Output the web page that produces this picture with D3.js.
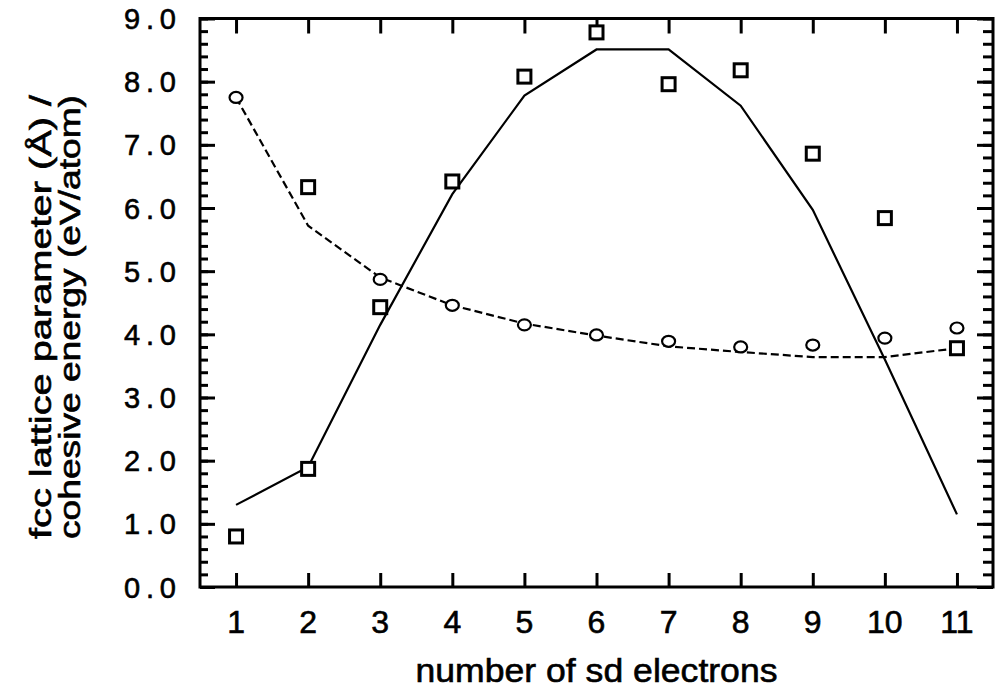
<!DOCTYPE html>
<html>
<head>
<meta charset="utf-8">
<script src="https://cdn.jsdelivr.net/npm/d3@7"></script>
<style>
  html, body { margin: 0; padding: 0; background: #fff; }
  svg { display: block; }
  text { font-family: "Liberation Sans", Arial, sans-serif; fill: #000; stroke: #000; stroke-width: 0.6; }
</style>
</head>
<body>
<svg id="chart" width="999" height="689"></svg>
<script>
// ---- data ----
const electrons = [1, 2, 3, 4, 5, 6, 7, 8, 9, 10, 11];
// squares: measured cohesive energy (eV/atom)
const cohesiveMeasured = [0.80, 1.87, 4.43, 6.42, 8.08, 8.78, 7.96, 8.18, 6.86, 5.84, 3.78];
// solid curve: model cohesive energy
const cohesiveModel = [1.30, 1.90, 4.15, 6.22, 7.78, 8.51, 8.51, 7.62, 5.97, 3.60, 1.15];
// small round markers: fcc lattice parameter (Å)
const latticeMeasured = [7.75, 6.33, 4.87, 4.46, 4.15, 3.99, 3.89, 3.80, 3.83, 3.94, 4.10];
// dashed curve: model lattice parameter
const latticeModel = [7.75, 5.72, 4.90, 4.46, 4.17, 3.98, 3.81, 3.72, 3.64, 3.64, 3.78];
const yTicks = [0, 1, 2, 3, 4, 5, 6, 7, 8, 9];
const xTicks = [1, 2, 3, 4, 5, 6, 7, 8, 9, 10, 11];
const xTitle = "number of sd electrons";
const yTitle = ["fcc lattice parameter (Å) /", "cohesive energy (eV/atom)"];

// marker style per lattice point (the second one is drawn as a square in the original)
const latticeMarkerShape = ["circle", "square", "circle", "circle", "circle", "circle", "circle", "circle", "circle", "circle", "circle"];

// ---- layout ----
const svg = d3.select("#chart");
const L = 200, R = 993, T = 18.5, B = 587;
const x = d3.scaleLinear().domain([0.5, 11.5]).range([L, R]);
const y = d3.scaleLinear().domain([0, 9]).range([B, T]);

const minorTicks = d3.range(0, 9.0001, 0.2).map(v => +v.toFixed(1));

// frame
svg.append("rect")
  .attr("x", L).attr("y", T).attr("width", R - L).attr("height", B - T)
  .attr("fill", "none").attr("stroke", "#000").attr("stroke-width", 3);

// axes via d3 axis generators (ticks pointing inward)
const tickStyle = g => { g.select(".domain").remove(); g.selectAll("line").attr("stroke", "#000").attr("stroke-width", 3); g.selectAll("text").remove(); };

svg.append("g").attr("transform", `translate(0,${B})`)
  .call(d3.axisTop(x).tickValues(xTicks).tickSize(14)).call(tickStyle);
svg.append("g").attr("transform", `translate(0,${T})`)
  .call(d3.axisBottom(x).tickValues(xTicks).tickSize(15)).call(tickStyle);

svg.append("g").attr("transform", `translate(${L},0)`)
  .call(d3.axisRight(y).tickValues(minorTicks).tickSize(8)).call(tickStyle);
svg.append("g").attr("transform", `translate(${L},0)`)
  .call(d3.axisRight(y).tickValues(yTicks).tickSize(15)).call(tickStyle);
svg.append("g").attr("transform", `translate(${R},0)`)
  .call(d3.axisLeft(y).tickValues(minorTicks).tickSize(10)).call(tickStyle);
svg.append("g").attr("transform", `translate(${R},0)`)
  .call(d3.axisLeft(y).tickValues(yTicks).tickSize(16)).call(tickStyle);

// tick labels
svg.append("g").selectAll("text").data(yTicks).join("text")
  .attr("x", 176).attr("y", d => y(d) + 10.5)
  .attr("text-anchor", "end")
  .attr("font-size", 29)
  .attr("textLength", 52).attr("lengthAdjust", "spacing")
  .text(d => d.toFixed(1));

svg.append("g").selectAll("text").data(xTicks).join("text")
  .attr("x", d => x(d)).attr("y", 633)
  .attr("text-anchor", "middle")
  .attr("font-size", 32)
  .text(d => d);

// axis titles
svg.append("text")
  .attr("x", (L + R) / 2).attr("y", 682)
  .attr("text-anchor", "middle")
  .attr("font-size", 33)
  .attr("textLength", 362).attr("lengthAdjust", "spacingAndGlyphs")
  .text(xTitle);

const yt = svg.append("g").attr("transform", "translate(0,317) rotate(-90)");
yt.selectAll("text").data(yTitle).join("text")
  .attr("x", 0).attr("y", (d, i) => i === 0 ? 51 : 80)
  .attr("text-anchor", "middle")
  .attr("font-size", 29)
  .attr("textLength", 444).attr("lengthAdjust", "spacingAndGlyphs")
  .text(d => d);

// lines
const line = d3.line().x((d, i) => x(electrons[i])).y(d => y(d));

svg.append("path").datum(cohesiveModel)
  .attr("d", line).attr("fill", "none")
  .attr("stroke", "#000").attr("stroke-width", 2.2);

svg.append("path").datum(latticeModel)
  .attr("d", line).attr("fill", "none")
  .attr("stroke", "#000").attr("stroke-width", 2.2)
  .attr("stroke-dasharray", "8,4");

// markers
svg.append("g").selectAll("rect").data(cohesiveMeasured).join("rect")
  .attr("x", (d, i) => x(electrons[i]) - 6.5)
  .attr("y", d => y(d) - 6.5)
  .attr("width", 13).attr("height", 13)
  .attr("fill", "#fff").attr("stroke", "#000").attr("stroke-width", 3);

const lm = svg.append("g").selectAll("g").data(latticeMeasured).join("g");
lm.each(function (d, i) {
  const g = d3.select(this);
  const cx = x(electrons[i]), cy = y(d);
  if (latticeMarkerShape[i] === "square") {
    g.append("rect").attr("x", cx - 6.5).attr("y", cy - 6.5).attr("width", 13).attr("height", 13)
      .attr("fill", "#fff").attr("stroke", "#000").attr("stroke-width", 3);
  } else {
    g.append("ellipse").attr("cx", cx).attr("cy", cy).attr("rx", 6.5).attr("ry", 5.5)
      .attr("fill", "#fff").attr("stroke", "#000").attr("stroke-width", 2.2);
  }
});
</script>
</body>
</html>
